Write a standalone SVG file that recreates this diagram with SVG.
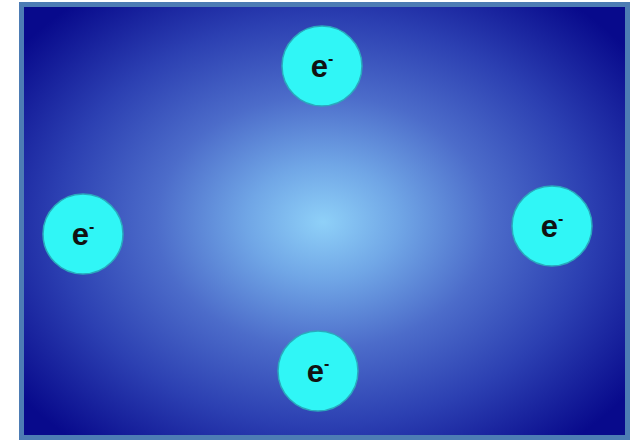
<svg xmlns="http://www.w3.org/2000/svg" width="638" height="441" viewBox="0 0 638 441">
<defs>
<radialGradient id="bg" cx="323" cy="222" r="380" gradientUnits="userSpaceOnUse" gradientTransform="translate(323 222) scale(1 0.76) translate(-323 -222)">
<stop offset="0" stop-color="#8ed0f8"/>
<stop offset="0.2" stop-color="#70a6e6"/>
<stop offset="0.44" stop-color="#4c6cca"/>
<stop offset="0.7" stop-color="#2c40b2"/>
<stop offset="1" stop-color="#080a8c"/>
</radialGradient>
<style>
.e circle{fill:#30f6f6;stroke:#2aa9bd;stroke-width:1.5}
.e text{font-family:"Liberation Sans",Arial,sans-serif;font-weight:bold;fill:#111;text-anchor:middle}
.t{font-size:31px}
.s{font-size:16px}
</style>
</defs>
<rect width="638" height="441" fill="#ffffff"/>
<rect x="21.5" y="4.5" width="606" height="433" fill="url(#bg)" stroke="#4d7cb4" stroke-width="5"/>
<g id="e-top" class="e"><circle cx="322" cy="66" r="40"/><text x="322" y="77"><tspan class="t">e</tspan><tspan class="s" dy="-13">-</tspan></text></g>
<g id="e-left" class="e"><circle cx="83" cy="234" r="40"/><text x="83" y="245"><tspan class="t">e</tspan><tspan class="s" dy="-13">-</tspan></text></g>
<g id="e-right" class="e"><circle cx="552" cy="226" r="40"/><text x="552" y="237"><tspan class="t">e</tspan><tspan class="s" dy="-13">-</tspan></text></g>
<g id="e-bottom" class="e"><circle cx="318" cy="371" r="40"/><text x="318" y="382"><tspan class="t">e</tspan><tspan class="s" dy="-13">-</tspan></text></g>
<g id="connectors"/>
</svg>
